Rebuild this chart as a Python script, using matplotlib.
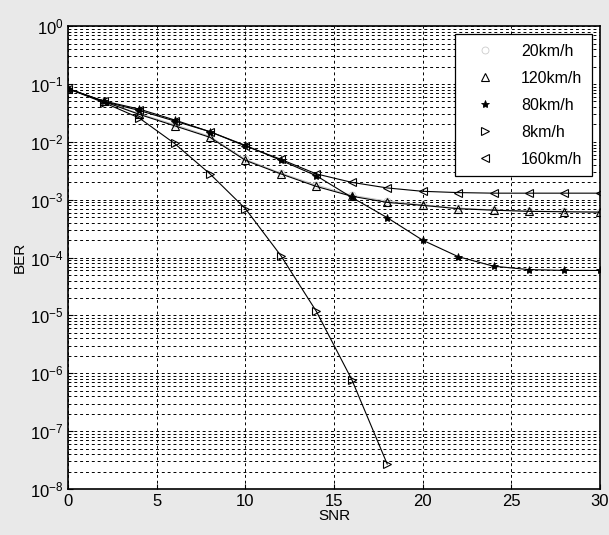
import matplotlib
matplotlib.use("Agg")
import matplotlib.pyplot as plt
from matplotlib.ticker import LogLocator, NullFormatter
import numpy as np

plt.rcParams["font.family"] = ["Liberation Sans", "DejaVu Sans"]

snr = [0, 2, 4, 6, 8, 10, 12, 14, 16, 18, 20, 22, 24, 26, 28, 30]

ber_20 = [0.083, 0.050, 0.031, 0.020, 0.0125, 0.0050, 0.0029, 0.0018, 0.0012,
          0.00095, 0.00082, 0.00072, 0.00067, 0.00064, 0.00063, 0.00062]
ber_120 = [0.083, 0.050, 0.030, 0.019, 0.012, 0.0048, 0.0028, 0.0017, 0.00115,
           0.00090, 0.00080, 0.00070, 0.00066, 0.00063, 0.00062, 0.00061]
ber_80 = [0.083, 0.051, 0.037, 0.024, 0.015, 0.0087, 0.0048, 0.0026, 0.0011,
          0.00049, 0.00020, 0.000104, 0.000071, 0.000062, 0.000060, 0.000060]
snr_8 = [0, 2, 4, 6, 8, 10, 12, 14, 16, 18]
ber_8 = [0.083, 0.048, 0.026, 0.0094, 0.0028, 0.00070, 0.000108, 0.0000118,
         0.00000078, 0.000000027]
ber_160 = [0.083, 0.050, 0.035, 0.023, 0.015, 0.0085, 0.0050, 0.0028, 0.0020,
           0.00160, 0.00140, 0.00133, 0.00130, 0.00130, 0.00130, 0.00130]

labels = ["20km/h", "120km/h", "80km/h", "8km/h", "160km/h"]

fig = plt.figure(figsize=(6.09, 5.35), dpi=100, facecolor="#e9e9e9")
ax = fig.add_axes([0.112, 0.086, 0.873, 0.865])
ax.set_facecolor("white")

lw = 0.8
ax.semilogy(snr, ber_20, color="#bbbbbb", lw=0.6, marker="o", ms=5,
            mfc="none", mec="#cccccc", mew=0.6, label=labels[0])
ax.semilogy(snr, ber_120, color="black", lw=lw, marker="^", ms=6,
            mfc="none", mec="black", mew=0.8, label=labels[1])
ax.semilogy(snr, ber_80, color="black", lw=lw, marker="*", ms=6,
            mfc="black", mec="black", mew=0.6, label=labels[2])
ax.semilogy(snr_8, ber_8, color="black", lw=lw, marker=">", ms=6,
            mfc="none", mec="black", mew=0.8, label=labels[3])
ax.semilogy(snr, ber_160, color="black", lw=lw, marker="<", ms=6,
            mfc="none", mec="black", mew=0.8, label=labels[4])

ax.set_xlim(0, 30)
ax.set_ylim(1e-8, 1e0)
ax.set_xticks([0, 5, 10, 15, 20, 25, 30])
ax.yaxis.set_major_locator(LogLocator(base=10, numticks=20))
ax.yaxis.set_minor_locator(LogLocator(base=10, subs=np.arange(2, 10), numticks=100))
ax.yaxis.set_minor_formatter(NullFormatter())

ax.grid(True, which="major", axis="both", color="black", ls=(0, (3, 3)), lw=0.7)
ax.grid(True, which="minor", axis="y", color="black", ls=(0, (3, 3)), lw=0.7)

ax.tick_params(axis="both", which="both", direction="in", labelsize=12,
               top=False, right=False)
ax.tick_params(axis="y", which="minor", length=0)
for s in ax.spines.values():
    s.set_linewidth(1.2)

ax.set_xlabel("SNR", fontsize=11, labelpad=0)
ax.set_ylabel("BER", fontsize=11, labelpad=2)

leg = ax.legend(loc="upper right", fontsize=11.5, frameon=True, fancybox=False,
                edgecolor="black", framealpha=1, borderpad=0.6,
                handlelength=2.5, handletextpad=1.0, labelspacing=0.75,
                borderaxespad=0.5)
leg.get_frame().set_linewidth(0.9)
for ln in leg.get_lines():
    ln.set_linestyle("None")

fig.savefig("out.png", dpi=100, facecolor=fig.get_facecolor())
